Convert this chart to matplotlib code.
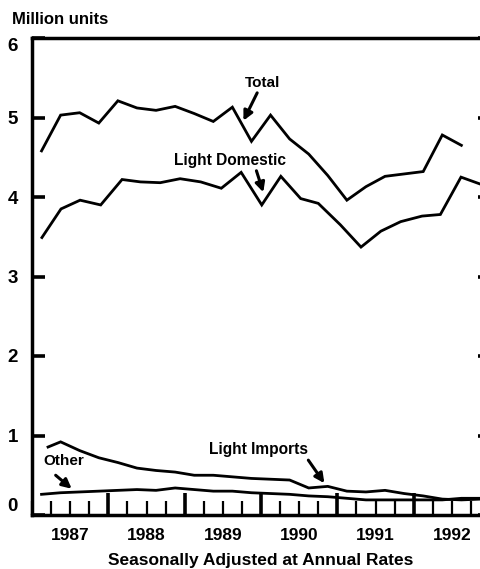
import matplotlib
matplotlib.use('Agg')
import matplotlib.pyplot as plt
import numpy as np

# values (million units, seasonally adjusted annual rates)
total_dates = [1987.125 + 0.25 * i for i in range(23)]
total = [4.58, 5.03, 5.06, 4.93, 5.21, 5.12, 5.09, 5.14, 5.05, 4.95, 5.13, 4.70,
         5.03, 4.73, 4.54, 4.27, 3.96, 4.13, 4.26, 4.29, 4.32, 4.78, 4.65]

ld_dates = [1987.13, 1987.38, 1987.63, 1987.90, 1988.18, 1988.42, 1988.68, 1988.94,
            1989.21, 1989.48, 1989.74, 1990.01, 1990.26, 1990.52, 1990.75, 1991.04,
            1991.31, 1991.57, 1991.83, 1992.11, 1992.35, 1992.62, 1992.88]
light_domestic = [3.49, 3.85, 3.96, 3.90, 4.22, 4.19, 4.18, 4.23, 4.19, 4.11, 4.31, 3.90,
                  4.26, 3.98, 3.92, 3.65, 3.37, 3.57, 3.69, 3.76, 3.78, 4.25, 4.16]

li_dates = [1987.21] + [1987.375 + 0.25 * i for i in range(23)]
light_imports = [0.855, 0.92, 0.81, 0.72, 0.66, 0.59, 0.56, 0.54, 0.50, 0.50, 0.48, 0.46,
                 0.45, 0.44, 0.34, 0.36, 0.30, 0.29, 0.31, 0.27, 0.24, 0.20, 0.19, 0.20]

other_dates = [1987.125 + 0.25 * i for i in range(24)]
other = [0.26, 0.28, 0.29, 0.30, 0.31, 0.32, 0.31, 0.34, 0.32, 0.30, 0.30, 0.28,
         0.27, 0.26, 0.24, 0.23, 0.21, 0.19, 0.19, 0.19, 0.19, 0.19, 0.21, 0.21]

years = [1987, 1988, 1989, 1990, 1991, 1992]
y_ticks = [0, 1, 2, 3, 4, 5, 6]

plt.rcParams['font.family'] = ['Liberation Sans', 'DejaVu Sans']

fig = plt.figure(figsize=(4.8, 5.69), dpi=100)
ax = fig.add_axes([32 / 480, 1 - 515 / 569, 458 / 480, 477 / 569])

for xs, ys in [(total_dates, total), (ld_dates, light_domestic),
               (li_dates, light_imports), (other_dates, other)]:
    ax.plot(xs, ys, color='k', lw=2.0, solid_joinstyle='miter')

ax.set_xlim(1987, 1993)
ax.set_ylim(0, 6)

for s in ax.spines.values():
    s.set_linewidth(2.5)

ax.set_xticks(years[1:] + [1993])
ax.set_xticks(np.arange(1987, 1993.01, 0.25), minor=True)
ax.tick_params(axis='x', which='major', direction='in', length=16, width=2.6,
               labelbottom=False)
ax.tick_params(axis='x', which='minor', direction='in', length=10, width=1.6)

ax.set_yticks(y_ticks, [str(t) for t in y_ticks])
ax.tick_params(axis='y', direction='in', length=9, width=2.6, right=True,
               pad=10, labelsize=13.5)
for lab in ax.get_yticklabels():
    lab.set_fontweight('bold')
    if lab.get_text() == '6':
        lab.set_va('top')
    elif lab.get_text() == '0':
        lab.set_va('bottom')

for yr in years:
    ax.text(yr + 0.5, -0.043, str(yr), transform=ax.get_xaxis_transform(),
            ha='center', va='center', fontsize=12.5, fontweight='bold')

fig.text(0.025, 0.965, 'Million units', ha='left', va='center',
         fontsize=12, fontweight='bold')
fig.text(0.544, 0.015, 'Seasonally Adjusted at Annual Rates', ha='center',
         va='center', fontsize=12.5, fontweight='bold')

arrow = dict(arrowstyle='-|>', lw=2.2, color='k', mutation_scale=14,
             shrinkA=0, shrinkB=0)

ax.text(1990.02, 5.44, 'Total', ha='center', va='center', fontsize=11, fontweight='bold')
ax.annotate('', xy=(1989.77, 4.96), xytext=(1989.95, 5.31), arrowprops=arrow)

ax.text(1989.60, 4.46, 'Light Domestic', ha='center', va='center', fontsize=11.2,
        fontweight='bold')
ax.annotate('', xy=(1990.03, 4.06), xytext=(1989.94, 4.33), arrowprops=arrow)

ax.text(1987.41, 0.685, 'Other', ha='center', va='center', fontsize=11, fontweight='bold')
ax.annotate('', xy=(1987.52, 0.33), xytext=(1987.31, 0.50), arrowprops=arrow)

ax.text(1989.97, 0.82, 'Light Imports', ha='center', va='center', fontsize=11.2,
        fontweight='bold')
ax.annotate('', xy=(1990.83, 0.40), xytext=(1990.62, 0.69), arrowprops=arrow)

fig.savefig('out.png', dpi=100)
